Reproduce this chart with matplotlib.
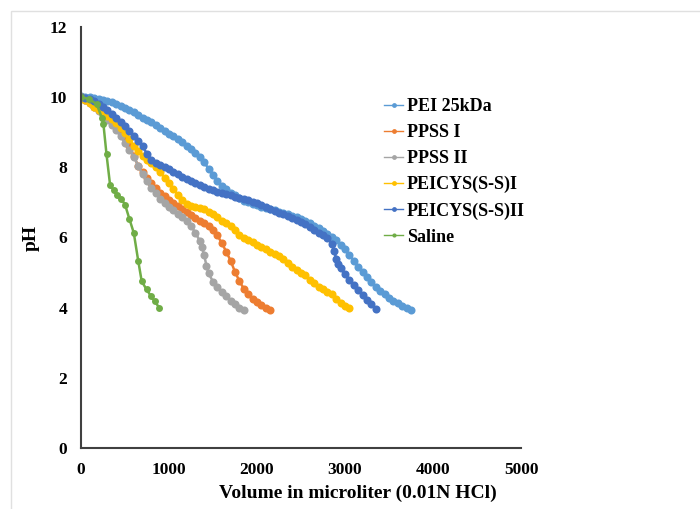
import matplotlib.pyplot as plt
from matplotlib.patches import Rectangle

# volume (microliter of 0.01N HCl) and pH
pei_v = [0, 50, 100, 150, 200, 250, 300, 350, 400, 450, 500, 550, 600, 650, 700, 750,
         800, 850, 900, 950, 1000, 1050, 1100, 1150, 1200, 1250, 1300, 1350, 1400, 1450,
         1500, 1550, 1600, 1650, 1700, 1750, 1800, 1850, 1900, 1950, 2000, 2050, 2100,
         2150, 2200, 2250, 2300, 2350, 2400, 2450, 2500, 2550, 2600, 2650, 2700, 2750,
         2800, 2850, 2900, 2950, 3000, 3050, 3100, 3150, 3200, 3250, 3300, 3350, 3400,
         3450, 3500, 3550, 3600, 3650, 3700, 3750]
pei_ph = [10.02, 10.01, 10.0, 9.98, 9.95, 9.92, 9.88, 9.85, 9.81, 9.76, 9.7, 9.64, 9.57,
          9.49, 9.42, 9.35, 9.28, 9.2, 9.12, 9.04, 8.96, 8.88, 8.8, 8.71, 8.62, 8.52, 8.42,
          8.3, 8.14, 7.96, 7.78, 7.62, 7.48, 7.38, 7.28, 7.2, 7.12, 7.05, 7.0, 6.96, 6.92,
          6.88, 6.85, 6.81, 6.78, 6.74, 6.7, 6.66, 6.62, 6.57, 6.52, 6.46, 6.4, 6.33, 6.26,
          6.18, 6.1, 6.02, 5.92, 5.8, 5.66, 5.5, 5.34, 5.17, 5.02, 4.88, 4.74, 4.6, 4.48,
          4.38, 4.28, 4.2, 4.12, 4.05, 3.99, 3.94]

ppss1_v = [0, 50, 100, 150, 200, 250, 300, 350, 400, 450, 500, 550, 600, 650, 700, 750,
           800, 850, 900, 950, 1000, 1050, 1100, 1150, 1200, 1250, 1300, 1350, 1400, 1450,
           1500, 1550, 1600, 1650, 1700, 1750, 1800, 1850, 1900, 1950, 2000, 2050, 2100, 2150]
ppss1_ph = [10.0, 9.92, 9.82, 9.72, 9.62, 9.52, 9.42, 9.32, 9.18, 9.02, 8.86, 8.62, 8.32,
            8.04, 7.86, 7.7, 7.54, 7.4, 7.28, 7.18, 7.08, 6.99, 6.9, 6.8, 6.72, 6.64, 6.56,
            6.48, 6.4, 6.32, 6.22, 6.06, 5.84, 5.6, 5.34, 5.02, 4.76, 4.54, 4.38, 4.24,
            4.16, 4.08, 4.0, 3.94]

ppss2_v = [0, 50, 100, 150, 200, 250, 300, 350, 400, 450, 500, 550, 600, 650, 700, 750,
           800, 850, 900, 950, 1000, 1050, 1100, 1150, 1200, 1250, 1300, 1350, 1375, 1400,
           1425, 1450, 1500, 1550, 1600, 1650, 1700, 1750, 1800, 1850]
ppss2_ph = [10.0, 9.92, 9.82, 9.72, 9.6, 9.48, 9.36, 9.22, 9.06, 8.88, 8.7, 8.5, 8.3,
            8.05, 7.8, 7.6, 7.42, 7.26, 7.1, 6.98, 6.88, 6.78, 6.68, 6.58, 6.46, 6.32,
            6.14, 5.9, 5.72, 5.5, 5.2, 4.98, 4.74, 4.58, 4.44, 4.32, 4.2, 4.1, 4.0, 3.92]

cys1_v = [0, 50, 100, 150, 200, 250, 300, 350, 400, 450, 500, 550, 600, 650, 700, 750,
          800, 850, 900, 950, 1000, 1050, 1100, 1150, 1200, 1250, 1300, 1350, 1400, 1450,
          1500, 1550, 1600, 1650, 1700, 1750, 1800, 1850, 1900, 1950, 2000, 2050, 2100,
          2150, 2200, 2250, 2300, 2350, 2400, 2450, 2500, 2550, 2600, 2650, 2700, 2750,
          2800, 2850, 2900, 2950, 3000, 3050]
cys1_ph = [10.0, 9.92, 9.82, 9.72, 9.63, 9.54, 9.46, 9.37, 9.25, 9.12, 8.98, 8.8, 8.62,
           8.46, 8.32, 8.22, 8.12, 8.0, 7.86, 7.7, 7.54, 7.38, 7.22, 7.08, 6.96, 6.9, 6.87,
           6.84, 6.8, 6.74, 6.66, 6.57, 6.48, 6.42, 6.33, 6.2, 6.06, 5.98, 5.92, 5.86, 5.8,
           5.74, 5.66, 5.58, 5.52, 5.46, 5.38, 5.28, 5.16, 5.08, 5.0, 4.92, 4.8, 4.7, 4.6,
           4.52, 4.46, 4.38, 4.24, 4.12, 4.04, 3.98]

cys2_v = [0, 50, 100, 150, 200, 250, 300, 350, 400, 450, 500, 550, 600, 650, 700, 750,
          800, 850, 900, 950, 1000, 1050, 1100, 1150, 1200, 1250, 1300, 1350, 1400, 1450,
          1500, 1550, 1600, 1650, 1700, 1750, 1800, 1850, 1900, 1950, 2000, 2050, 2100,
          2150, 2200, 2250, 2300, 2350, 2400, 2450, 2500, 2550, 2600, 2650, 2700, 2750,
          2800, 2850, 2875, 2900, 2925, 2950, 3000, 3050, 3100, 3150, 3200, 3250, 3300, 3350]
cys2_ph = [10.0, 9.98, 9.94, 9.88, 9.8, 9.71, 9.62, 9.52, 9.42, 9.3, 9.17, 9.03, 8.88,
           8.74, 8.6, 8.38, 8.22, 8.12, 8.06, 8.0, 7.94, 7.88, 7.8, 7.73, 7.66, 7.61, 7.55,
           7.49, 7.43, 7.38, 7.34, 7.3, 7.27, 7.23, 7.2, 7.16, 7.12, 7.1, 7.07, 7.02, 6.98,
           6.93, 6.88, 6.82, 6.76, 6.71, 6.66, 6.61, 6.56, 6.51, 6.45, 6.38, 6.3, 6.22,
           6.14, 6.06, 5.98, 5.82, 5.62, 5.4, 5.25, 5.12, 4.95, 4.8, 4.64, 4.5, 4.36, 4.22,
           4.1, 3.96]

saline_v = [0, 90, 180, 235, 255, 290, 330, 370, 410, 460, 500, 550, 600, 650, 690, 745,
            795, 840, 890]
saline_ph = [10.0, 9.95, 9.8, 9.42, 9.23, 8.37, 7.51, 7.35, 7.2, 7.09, 6.94, 6.53, 6.13,
             5.34, 4.75, 4.52, 4.33, 4.18, 3.99]

series = [
    ('PEI 25kDa', pei_v, pei_ph, '#5B9BD5'),
    ('PPSS I', ppss1_v, ppss1_ph, '#ED7D31'),
    ('PPSS II', ppss2_v, ppss2_ph, '#A5A5A5'),
    ('PEICYS(S-S)I', cys1_v, cys1_ph, '#FFC000'),
    ('PEICYS(S-S)II', cys2_v, cys2_ph, '#4472C4'),
    ('Saline', saline_v, saline_ph, '#70AD47'),
]

plt.rcParams['font.family'] = ['Liberation Serif', 'DejaVu Serif']
plt.rcParams['font.weight'] = 'bold'

fig = plt.figure(figsize=(7, 5.09), dpi=100)
ax = fig.add_axes([0.1157, 0.1198, 0.6286, 0.8272])

# faint outer border of the chart area
fig.patches.append(Rectangle((11 / 700, -0.05), 1.0, 1 - 11 / 509 + 0.05,
                             transform=fig.transFigure, fill=False,
                             edgecolor='#e0e0e0', linewidth=1))

for name, v, ph, col in series:
    ms = 5 if name == 'Saline' else 5.8
    ax.plot(v, ph, '-o', color=col, lw=1.8, ms=ms, mew=0, label=name)

ax.set_xlim(0, 5000)
ax.set_ylim(0, 12)
ax.set_xticks([0, 1000, 2000, 3000, 4000, 5000])
ax.set_yticks([0, 2, 4, 6, 8, 10, 12])
ax.tick_params(length=0, labelsize=12.5)
ax.tick_params(axis='y', pad=10)
ax.tick_params(axis='x', pad=10)
for s in ['top', 'right']:
    ax.spines[s].set_visible(False)
for s in ['left', 'bottom']:
    ax.spines[s].set_color('#404040')
    ax.spines[s].set_linewidth(1.5)

ax.set_xlabel('Volume in microliter (0.01N HCl)', fontsize=14, fontweight='bold')
ax.xaxis.set_label_coords(0.63, -0.088)
ax.set_ylabel('pH', fontsize=14, fontweight='bold')
ax.yaxis.set_label_coords(-0.093, 0.5)

leg = ax.legend(loc='upper left', bbox_to_anchor=(375 / 700, 1 - 89 / 509),
                bbox_transform=fig.transFigure, frameon=False, fontsize=13,
                handlelength=1.05, handletextpad=0.2, labelspacing=0.5,
                markerscale=0.6, borderpad=0)
for line in leg.get_lines():
    line.set_linewidth(1)

fig.savefig('out.png', dpi=100)
